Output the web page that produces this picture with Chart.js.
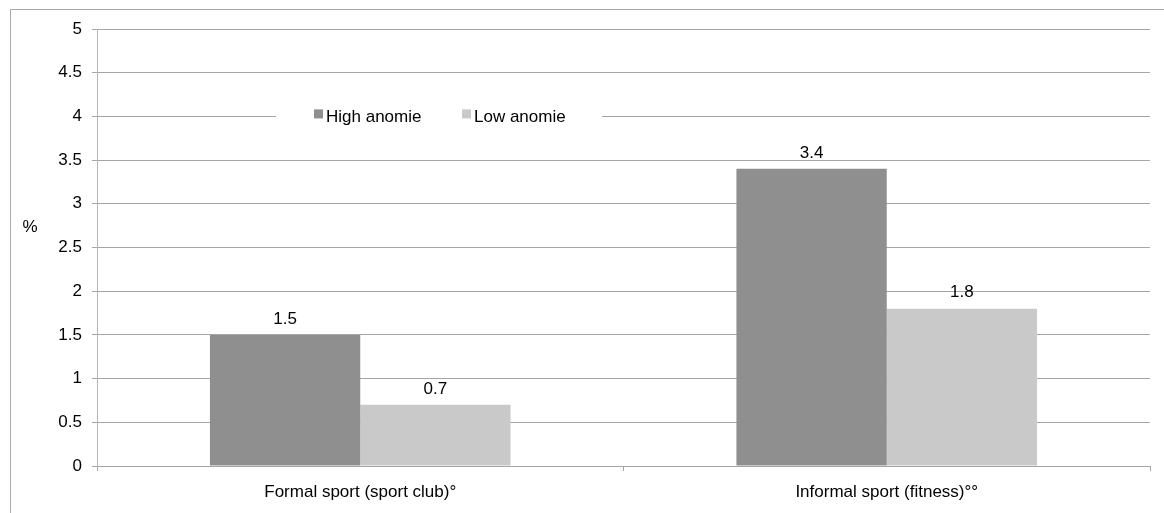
<!DOCTYPE html>
<html>
<head>
<meta charset="utf-8">
<script src="https://cdn.jsdelivr.net/npm/chart.js@4"></script>
<style>
  html, body { margin: 0; padding: 0; background: #fff; }
  #wrap { position: relative; width: 1164px; height: 513px; }
</style>
</head>
<body>
<div id="wrap"><canvas id="chart"></canvas></div>
<script>
// dados
const categorias = ["Formal sport (sport club)°", "Informal sport (fitness)°°"];
const highAnomie = [1.5, 3.4];
const lowAnomie = [0.7, 1.8];
const serieNomes = ["High anomie", "Low anomie"];
const yTicks = [0, 0.5, 1, 1.5, 2, 2.5, 3, 3.5, 4, 4.5, 5];

const FONTE = "'Liberation Sans', Arial, sans-serif";
const TAM = 17;
const COR_TEXTO = "#000";
const COR_GRADE = "#a6a6a6";

// moldura externa (só aparecem topo e esquerda)
const BorderPlugin = {
  id: "outerBorder",
  beforeDraw(chart) {
    const ctx = chart.ctx;
    ctx.save();
    ctx.strokeStyle = "#a9a9a9";
    ctx.lineWidth = 1;
    ctx.strokeRect(10.5, 9.5, 2000, 2000);
    ctx.restore();
  },
};

// rótulos de valor acima das barras
const ValueLabels = {
  id: "valueLabels",
  afterDatasetsDraw(chart) {
    const ctx = chart.ctx;
    ctx.save();
    ctx.font = TAM + "px " + FONTE;
    ctx.fillStyle = COR_TEXTO;
    ctx.textAlign = "center";
    ctx.textBaseline = "middle";
    chart.data.datasets.forEach((ds, i) => {
      chart.getDatasetMeta(i).data.forEach((bar, j) => {
        ctx.fillText(String(ds.data[j]), bar.x, bar.y - 16);
      });
    });
    ctx.restore();
  },
};

// legenda dentro da área do gráfico, sobre a linha do 4
const InnerLegend = {
  id: "innerLegend",
  afterDraw(chart) {
    const ctx = chart.ctx;
    const y = chart.scales.y.getPixelForValue(4);
    ctx.save();
    ctx.fillStyle = "#fff";
    ctx.fillRect(276, y - 13, 326, 26);
    ctx.font = TAM + "px " + FONTE;
    ctx.textBaseline = "middle";
    ctx.textAlign = "left";
    const xs = [314, 462];
    chart.data.datasets.forEach((ds, i) => {
      ctx.fillStyle = ds.backgroundColor;
      ctx.fillRect(xs[i], y - 7, 9, 9);
      ctx.fillStyle = COR_TEXTO;
      ctx.fillText(ds.label, xs[i] + 12, y + 0.5);
    });
    ctx.restore();
  },
};

// "%" horizontal à esquerda do eixo
const YTitle = {
  id: "yTitle",
  afterDraw(chart) {
    const ctx = chart.ctx;
    ctx.save();
    ctx.font = TAM + "px " + FONTE;
    ctx.fillStyle = COR_TEXTO;
    ctx.textAlign = "center";
    ctx.textBaseline = "middle";
    ctx.fillText("%", 30, 227);
    ctx.restore();
  },
};

new Chart(document.getElementById("chart"), {
  type: "bar",
  data: {
    labels: categorias,
    datasets: [
      { label: serieNomes[0], data: highAnomie, backgroundColor: "#8f8f8f", categoryPercentage: 0.571, barPercentage: 1 },
      { label: serieNomes[1], data: lowAnomie, backgroundColor: "#c9c9c9", categoryPercentage: 0.571, barPercentage: 1 },
    ],
  },
  options: {
    responsive: true,
    maintainAspectRatio: false,
    animation: false,
    layout: { padding: { left: 0, right: 14, top: 29, bottom: 0 } },
    plugins: {
      legend: { display: false },
      tooltip: { enabled: false },
    },
    scales: {
      x: {
        offset: true,
        grid: {
          offset: true,
          drawOnChartArea: false,
          drawTicks: true,
          tickLength: 5,
          color: COR_GRADE,
        },
        border: { color: COR_GRADE },
        ticks: {
          font: { family: FONTE, size: TAM },
          color: COR_TEXTO,
          padding: 11,
          maxRotation: 0,
        },
        afterFit(scale) {
          scale.height = 47;
        },
      },
      y: {
        min: 0,
        max: 5,
        afterBuildTicks(scale) {
          scale.ticks = yTicks.map((v) => ({ value: v }));
        },
        grid: {
          color: COR_GRADE,
          tickLength: 5,
        },
        border: { color: "#b5b5b5" },
        ticks: {
          font: { family: FONTE, size: TAM },
          color: COR_TEXTO,
          padding: 10,
          callback: (v) => String(v),
        },
        afterFit(scale) {
          scale.width = 97;
        },
      },
    },
  },
  plugins: [BorderPlugin, ValueLabels, InnerLegend, YTitle],
});
</script>
</body>
</html>
